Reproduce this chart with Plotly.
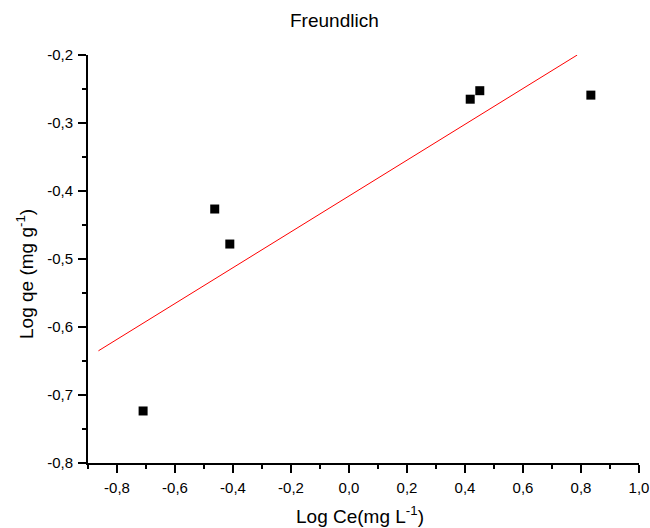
import plotly.graph_objects as go

# Data
log_ce = [-0.710, -0.463, -0.411, 0.418, 0.451, 0.834]
log_qe = [-0.7235, -0.4265, -0.478, -0.265, -0.2525, -0.259]

fit_x = [-0.864, 0.787]
fit_y = [-0.635, -0.200]

x_tick_vals = [-0.8, -0.6, -0.4, -0.2, 0.0, 0.2, 0.4, 0.6, 0.8, 1.0]
x_tick_text = ["-0,8", "-0,6", "-0,4", "-0,2", "0,0", "0,2", "0,4", "0,6", "0,8", "1,0"]
y_tick_vals = [-0.8, -0.7, -0.6, -0.5, -0.4, -0.3, -0.2]
y_tick_text = ["-0,8", "-0,7", "-0,6", "-0,5", "-0,4", "-0,3", "-0,2"]

title_text = "Freundlich"
x_title = "Log Ce(mg L<sup>-1</sup>)"
y_title = "Log qe (mg g<sup>-1</sup>)"

FONT = "Liberation Sans, Arial, sans-serif"
W, H = 650, 528
L, R, T, B = 88, 11, 55, 65
pw, ph = W - L - R, H - T - B

fig = go.Figure()
fig.add_trace(go.Scatter(
    x=fit_x, y=fit_y, mode="lines",
    line=dict(color="#ff0000", width=1),
    showlegend=False,
))
fig.add_trace(go.Scatter(
    x=log_ce, y=log_qe, mode="markers",
    marker=dict(symbol="square", size=9, color="black"),
    showlegend=False,
))

axis_common = dict(
    showgrid=False, zeroline=False,
    showline=True, linecolor="black", linewidth=2,
    ticks="outside", ticklen=8, tickwidth=2, tickcolor="black",
    tickfont=dict(family=FONT, size=15, color="black"),
    mirror=False, automargin=False,
)

fig.update_xaxes(
    range=[-0.9, 1.0],
    tickmode="array", tickvals=x_tick_vals, ticktext=x_tick_text,
    minor=dict(ticks="outside", ticklen=4, tickwidth=2, tickcolor="black", dtick=0.1, tick0=0),
    ticklabelstandoff=2,
    **axis_common,
)
fig.update_yaxes(
    range=[-0.8, -0.2],
    tickmode="array", tickvals=y_tick_vals, ticktext=y_tick_text,
    minor=dict(ticks="outside", ticklen=4, tickwidth=2, tickcolor="black", dtick=0.05, tick0=0),
    ticklabelstandoff=2,
    **axis_common,
)

def px_x(px):
    return (px - L) / pw

def px_y(py):
    return 1 - (py - T) / ph

fig.add_annotation(
    text=x_title, xref="paper", yref="paper",
    x=px_x(360), y=px_y(515), xanchor="center", yanchor="middle",
    showarrow=False, font=dict(family=FONT, size=19, color="black"),
)
fig.add_annotation(
    text=y_title, xref="paper", yref="paper", textangle=-90,
    x=px_x(25), y=px_y(274), xanchor="center", yanchor="middle",
    showarrow=False, font=dict(family=FONT, size=19, color="black"),
)
fig.add_annotation(
    text=title_text, xref="paper", yref="paper",
    x=px_x(334), y=px_y(20), xanchor="center", yanchor="middle",
    showarrow=False, font=dict(family=FONT, size=19, color="black"),
)

fig.update_layout(
    width=W, height=H,
    margin=dict(l=L, r=R, t=T, b=B, autoexpand=False),
    paper_bgcolor="white", plot_bgcolor="white",
    separators=",.",
)

fig.write_html(
    "out.html",
    config={"displayModeBar": False},
    post_script="document.body.style.margin='0';document.body.style.overflow='hidden';",
)
